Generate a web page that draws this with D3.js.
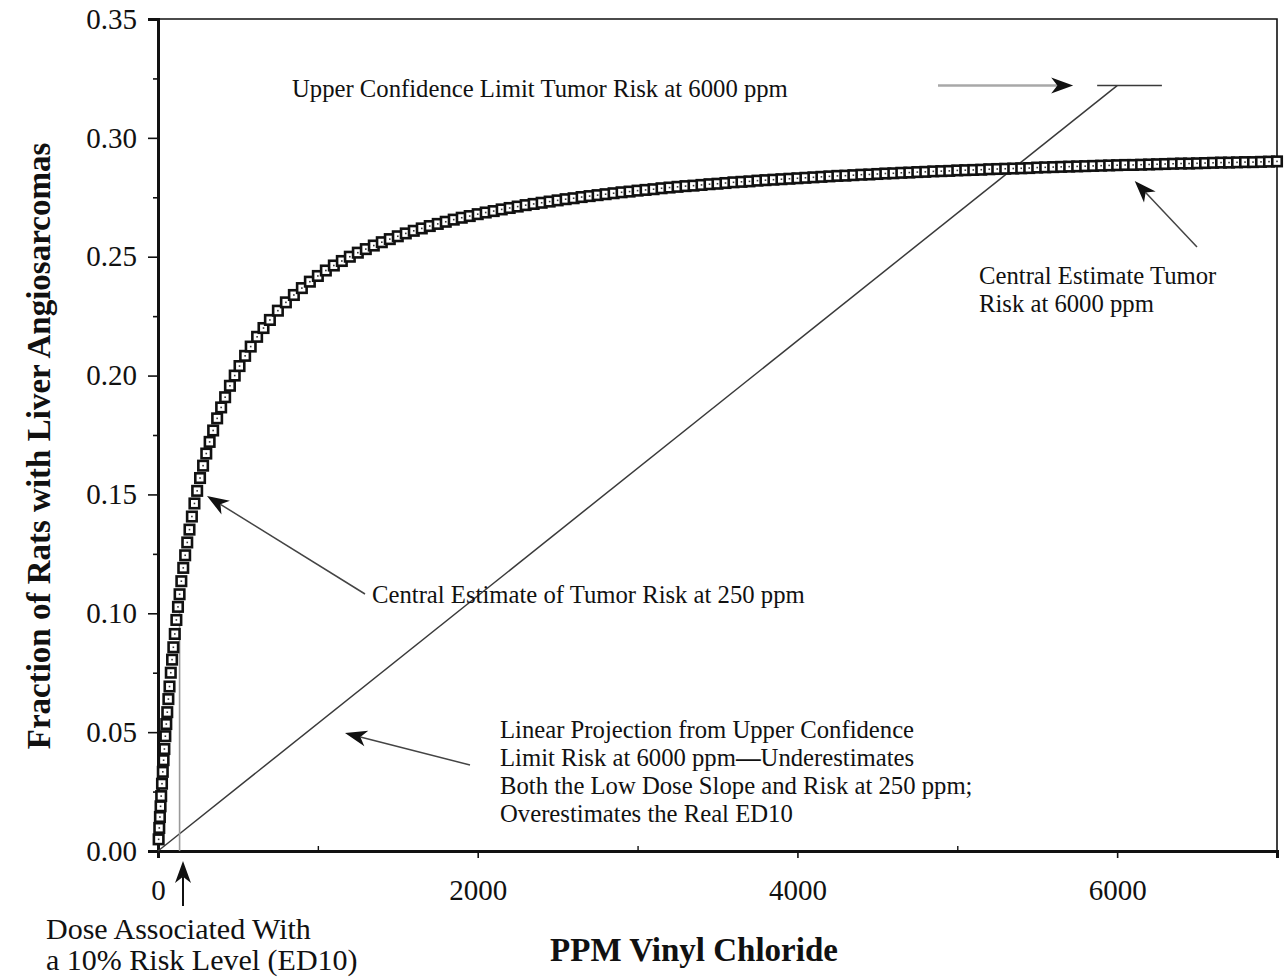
<!DOCTYPE html>
<html>
<head>
<meta charset="utf-8">
<script src="https://cdn.jsdelivr.net/npm/d3@7/dist/d3.min.js"></script>
<style>
  html, body { margin: 0; padding: 0; background: #fff; }
  svg { display: block; font-family: "Liberation Serif", "Times New Roman", serif; }
</style>
</head>
<body>
<svg id="chart" width="1286" height="978"></svg>
<script>
// Dose (ppm vinyl chloride) of each modelled point on the central-estimate curve
const doses = [
  4, 8, 12, 16, 20, 25, 30, 35, 40, 46, 52, 58, 65, 72, 80, 88, 96, 105, 115, 125,
  135, 146, 158, 170, 183, 197, 212, 228, 245, 263, 282, 302, 323, 345, 370, 395,
  420, 450, 480, 510, 545, 580, 620, 660, 700, 750, 800, 850, 900, 950,
  1000, 1050, 1100, 1150, 1200, 1250, 1300, 1350, 1400, 1450, 1500, 1550, 1600,
  1650, 1700, 1750, 1800, 1850, 1900, 1950, 2000, 2050, 2100, 2150, 2200, 2250,
  2300, 2350, 2400, 2450, 2500, 2550, 2600, 2650, 2700, 2750, 2800, 2850, 2900,
  2950, 3000, 3050, 3100, 3150, 3200, 3250, 3300, 3350, 3400, 3450, 3500, 3550,
  3600, 3650, 3700, 3750, 3800, 3850, 3900, 3950, 4000, 4050, 4100, 4150, 4200,
  4250, 4300, 4350, 4400, 4450, 4500, 4550, 4600, 4650, 4700, 4750, 4800, 4850,
  4900, 4950, 5000, 5050, 5100, 5150, 5200, 5250, 5300, 5350, 5400, 5450, 5500,
  5550, 5600, 5650, 5700, 5750, 5800, 5850, 5900, 5950, 6000, 6050, 6100, 6150,
  6200, 6250, 6300, 6350, 6400, 6450, 6500, 6550, 6600, 6650, 6700, 6750, 6800,
  6850, 6900, 6950, 7000
];

// Fraction of rats with liver angiosarcomas at each dose
const risks = [
  0.0049, 0.0097, 0.0143, 0.0188, 0.0231, 0.0283, 0.0333, 0.0382, 0.0429, 0.0483,
  0.0534, 0.0584, 0.0639, 0.0692, 0.0750, 0.0805, 0.0857, 0.0913, 0.0972, 0.1027,
  0.1080, 0.1135, 0.1191, 0.1244, 0.1298, 0.1352, 0.1407, 0.1462, 0.1515, 0.1569,
  0.1621, 0.1672, 0.1721, 0.1769, 0.1820, 0.1866, 0.1909, 0.1957, 0.2000, 0.2040,
  0.2083, 0.2122, 0.2163, 0.2200, 0.2234, 0.2273, 0.2308, 0.2339, 0.2368, 0.2395,
  0.2419, 0.2442, 0.2463, 0.2482, 0.2500, 0.2517, 0.2532, 0.2547, 0.2561, 0.2574,
  0.2586, 0.2598, 0.2609, 0.2619, 0.2629, 0.2638, 0.2647, 0.2656, 0.2664, 0.2671,
  0.2679, 0.2686, 0.2692, 0.2699, 0.2705, 0.2711, 0.2717, 0.2722, 0.2727, 0.2732,
  0.2737, 0.2742, 0.2746, 0.2751, 0.2755, 0.2759, 0.2763, 0.2767, 0.2771, 0.2774,
  0.2778, 0.2781, 0.2784, 0.2788, 0.2791, 0.2794, 0.2797, 0.2799, 0.2802, 0.2805,
  0.2807, 0.2810, 0.2813, 0.2815, 0.2817, 0.2820, 0.2822, 0.2824, 0.2826, 0.2828,
  0.2830, 0.2832, 0.2834, 0.2836, 0.2838, 0.2840, 0.2841, 0.2843, 0.2845, 0.2846,
  0.2848, 0.2850, 0.2851, 0.2853, 0.2854, 0.2856, 0.2857, 0.2859, 0.2860, 0.2861,
  0.2863, 0.2864, 0.2865, 0.2866, 0.2868, 0.2869, 0.2870, 0.2871, 0.2872, 0.2873,
  0.2875, 0.2876, 0.2877, 0.2878, 0.2879, 0.2880, 0.2881, 0.2882, 0.2883, 0.2884,
  0.2885, 0.2886, 0.2886, 0.2887, 0.2888, 0.2889, 0.2890, 0.2891, 0.2892, 0.2892,
  0.2893, 0.2894, 0.2895, 0.2896, 0.2896, 0.2897, 0.2898, 0.2898, 0.2899, 0.2900,
  0.2901
];

// Reference quantities
const uclDose = 6000;          // dose of the upper confidence limit
const uclRisk = 0.322;         // upper confidence limit risk at 6000 ppm
const uclCap = [5875, 6280];   // extent of the cap drawn at the UCL
const ed10Dose = 135;          // dose associated with a 10% risk
const ed10Risk = 0.10;

// Axis ticks
const xTicks = [0, 2000, 4000, 6000];
const xMinorTicks = [1000, 3000, 5000];
const yTicks = [0, 0.05, 0.10, 0.15, 0.20, 0.25, 0.30, 0.35];
const yMinorTicks = [0.025, 0.075, 0.125, 0.175, 0.225, 0.275, 0.325];

const xTitle = "PPM Vinyl Chloride";
const yTitle = "Fraction of Rats with Liver Angiosarcomas";

const svg = d3.select("#chart");
const plot = { left: 158, right: 1277, top: 19, bottom: 851 };

const x = d3.scaleLinear().domain([0, 7000]).range([plot.left, plot.right]);
const y = d3.scaleLinear().domain([0, 0.35]).range([plot.bottom, plot.top]);

// Frame (top and right)
svg.append("path")
  .attr("d", `M${plot.left},${plot.top}H${plot.right}V${plot.bottom}`)
  .attr("fill", "none").attr("stroke", "#111").attr("stroke-width", 1.6);

// Y axis
const yAxis = svg.append("g").attr("transform", `translate(${plot.left},0)`)
  .call(d3.axisLeft(y).tickValues(yTicks).tickFormat(d3.format(".2f"))
    .tickSize(10).tickPadding(11));
yAxis.select(".domain").attr("stroke-width", 3).attr("stroke", "#111");
yAxis.selectAll(".tick line").attr("stroke-width", 1.6).attr("stroke", "#111");
yAxis.selectAll("text").attr("font-size", 29).attr("fill", "#111")
  .attr("font-family", "Liberation Serif, serif");

const yMinor = svg.append("g").attr("transform", `translate(${plot.left},0)`)
  .call(d3.axisLeft(y).tickValues(yMinorTicks).tickSize(5).tickFormat(""));
yMinor.select(".domain").remove();
yMinor.selectAll(".tick line").attr("stroke-width", 1.6).attr("stroke", "#111");

// X axis
const xAxis = svg.append("g").attr("transform", `translate(0,${plot.bottom})`)
  .call(d3.axisBottom(x).tickValues(xTicks).tickFormat(d3.format("d"))
    .tickSize(7).tickPadding(21));
xAxis.select(".domain").attr("stroke-width", 3).attr("stroke", "#111");
xAxis.selectAll(".tick line").attr("stroke-width", 1.6).attr("stroke", "#111");
xAxis.selectAll("text").attr("font-size", 29).attr("fill", "#111")
  .attr("font-family", "Liberation Serif, serif");

const xMinor = svg.append("g").attr("transform", `translate(0,${plot.bottom})`)
  .call(d3.axisBottom(x).tickValues(xMinorTicks).tickSize(-5).tickFormat(""));
xMinor.select(".domain").remove();
xMinor.selectAll(".tick line").attr("stroke-width", 1.4).attr("stroke", "#111");

// Axis titles
svg.append("text")
  .attr("x", 694).attr("y", 961)
  .attr("text-anchor", "middle").attr("font-size", 33).attr("font-weight", "bold")
  .attr("fill", "#111").text(xTitle);

svg.append("text")
  .attr("transform", `translate(50,446) rotate(-90)`)
  .attr("text-anchor", "middle").attr("font-size", 33).attr("font-weight", "bold")
  .attr("fill", "#111").text(yTitle);

// Linear projection from the UCL back to the origin
svg.append("line")
  .attr("x1", x(0)).attr("y1", y(0)).attr("x2", x(uclDose)).attr("y2", y(uclRisk))
  .attr("stroke", "#3a3a3a").attr("stroke-width", 1.5);
svg.append("line")
  .attr("x1", x(uclCap[0])).attr("y1", y(uclRisk)).attr("x2", x(uclCap[1])).attr("y2", y(uclRisk))
  .attr("stroke", "#3a3a3a").attr("stroke-width", 1.6);

// ED10 drop line
svg.append("line")
  .attr("x1", x(ed10Dose)).attr("y1", y(0)).attr("x2", x(ed10Dose)).attr("y2", y(ed10Risk))
  .attr("stroke", "#9a9a9a").attr("stroke-width", 1.6);

// Central-estimate curve, one square marker per dose
const pts = doses.map((d, i) => [x(d), y(risks[i])]);
const s = 9.5;
const markers = svg.append("g");
markers.selectAll("rect.m").data(pts).join("rect")
  .attr("class", "m")
  .attr("x", d => d[0] - s / 2).attr("y", d => d[1] - s / 2)
  .attr("width", s).attr("height", s)
  .attr("fill", "#fff").attr("stroke", "#111").attr("stroke-width", 2.6);
markers.selectAll("rect.c").data(pts).join("rect")
  .attr("class", "c")
  .attr("x", d => d[0] - 0.8).attr("y", d => d[1] - 0.8)
  .attr("width", 1.6).attr("height", 1.6).attr("fill", "#333");

// Annotation arrows
function arrow(x1, y1, x2, y2, lineColor, lineWidth) {
  const a = Math.atan2(y2 - y1, x2 - x1);
  const L = 22, W = 8, N = 0.72 * L;
  svg.append("line")
    .attr("x1", x1).attr("y1", y1)
    .attr("x2", x2 - Math.cos(a) * N).attr("y2", y2 - Math.sin(a) * N)
    .attr("stroke", lineColor).attr("stroke-width", lineWidth);
  const head = [[0, 0], [-L, -W], [-N, 0], [-L, W]]
    .map(([u, v]) => [x2 + u * Math.cos(a) - v * Math.sin(a), y2 + u * Math.sin(a) + v * Math.cos(a)]);
  svg.append("path").attr("d", "M" + head.join("L") + "Z").attr("fill", "#111");
}

arrow(938, y(uclRisk), x(5725), y(uclRisk), "#a8a8a8", 2.6);
arrow(1197, 247, x(6110), 181, "#444", 1.5);
arrow(365, 594, 207, 496, "#444", 1.5);
arrow(470, 765, 345, 733, "#444", 1.5);
arrow(183, 906, 183, 861, "#111", 2);

// Annotation text
function label(tx, ty, lines, size, lh) {
  const t = svg.append("text").attr("x", tx).attr("y", ty)
    .attr("font-size", size).attr("fill", "#111");
  lines.forEach((ln, i) => {
    const sp = t.append("tspan").attr("x", tx).attr("dy", i === 0 ? 0 : lh);
    if (Array.isArray(ln)) {
      ln.forEach(part => {
        const p = sp.append("tspan").text(part.t);
        if (part.b) p.attr("font-weight", "bold");
      });
    } else sp.text(ln);
  });
}

label(292, 97, ["Upper Confidence Limit Tumor Risk at 6000 ppm"], 24.7, 28);
label(979, 284, ["Central Estimate Tumor", "Risk at 6000 ppm"], 24.7, 28);
label(372, 603, ["Central Estimate of Tumor Risk at 250 ppm"], 24.7, 28);
label(500, 738, [
  "Linear Projection from Upper Confidence",
  [{t: "Limit Risk at 6000 ppm"}, {t: "\u2014", b: true}, {t: "Underestimates"}],
  "Both the Low Dose Slope and Risk at 250 ppm;",
  "Overestimates the Real ED10"
], 24.7, 28);
label(46, 939, ["Dose Associated With", "a 10% Risk Level (ED10)"], 30, 31);
</script>
</body>
</html>
